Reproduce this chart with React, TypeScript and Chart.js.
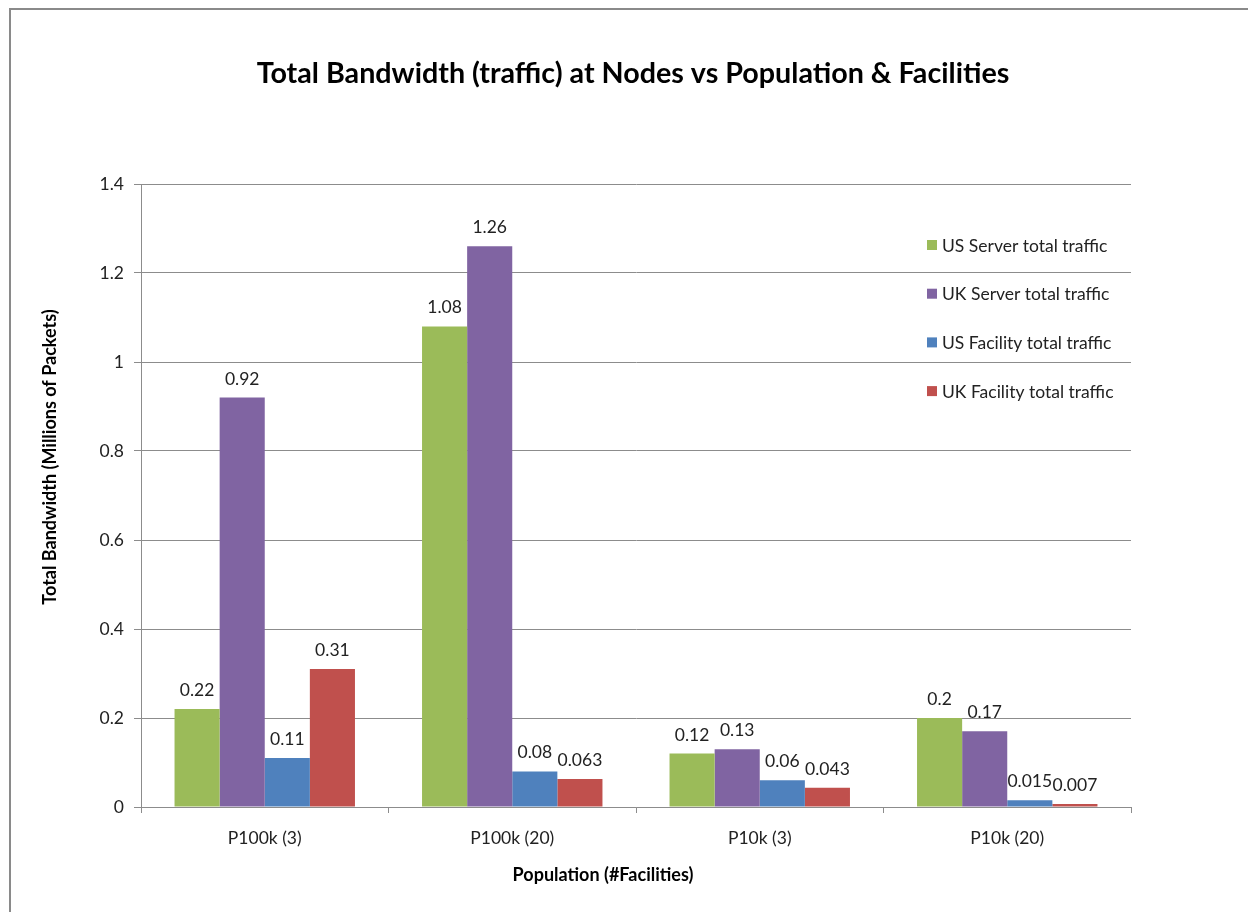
import React, { useEffect, useRef } from "react";
import { Chart, registerables } from "chart.js";

Chart.register(...registerables);

// Categories and series values
const categories = ["P100k (3)", "P100k (20)", "P10k (3)", "P10k (20)"];
const seriesNames = [
  "US Server total traffic",
  "UK Server total traffic",
  "US Facility total traffic",
  "UK Facility total traffic",
];
const usServer = [0.22, 1.08, 0.12, 0.2];
const ukServer = [0.92, 1.26, 0.13, 0.17];
const usFacility = [0.11, 0.08, 0.06, 0.015];
const ukFacility = [0.31, 0.063, 0.043, 0.007];
const seriesColors = ["#9BBB59", "#8064A2", "#4F81BD", "#C0504D"];
const yTickValues = [0, 0.2, 0.4, 0.6, 0.8, 1, 1.2, 1.4];

const chartTitle = "Total Bandwidth (traffic) at Nodes vs Population & Facilities";
const yAxisTitle = "Total Bandwidth (Millions of Packets)";
const xAxisTitle = "Population (#Facilities)";

const FONT = "Lato, 'Open Sans', sans-serif";
const TEXT = "#222222";
const LINE = "#8c8c8c";
const LABEL_SIZE = 17.5;

// White page with the grey frame on the left and top edges
const framePlugin = {
  id: "frame",
  beforeDraw(chart: any) {
    const { ctx, width, height } = chart;
    ctx.save();
    ctx.fillStyle = "#ffffff";
    ctx.fillRect(0, 0, width, height);
    ctx.strokeStyle = "#8a8a8a";
    ctx.lineWidth = 2;
    ctx.beginPath();
    ctx.moveTo(10, height);
    ctx.lineTo(10, 9);
    ctx.lineTo(width, 9);
    ctx.stroke();
    ctx.restore();
  },
};

// Value labels above each bar
const valueLabelPlugin = {
  id: "valueLabels",
  afterDatasetsDraw(chart: any) {
    const { ctx } = chart;
    ctx.save();
    ctx.font = `${LABEL_SIZE}px ${FONT}`;
    ctx.fillStyle = TEXT;
    ctx.textAlign = "center";
    ctx.textBaseline = "alphabetic";
    chart.data.datasets.forEach((ds: any, i: number) => {
      const meta = chart.getDatasetMeta(i);
      meta.data.forEach((bar: any, j: number) => {
        ctx.fillText(String(ds.data[j]), bar.x, bar.y - 13);
      });
    });
    ctx.restore();
  },
};

// Legend drawn inside the plot area, to the right
const legendPlugin = {
  id: "insideLegend",
  afterDraw(chart: any) {
    const { ctx, chartArea } = chart;
    const x0 = chartArea.right - 204;
    const y0 = chartArea.top + 61;
    const step = 48.7;
    ctx.save();
    ctx.font = `${LABEL_SIZE}px ${FONT}`;
    ctx.textAlign = "left";
    ctx.textBaseline = "middle";
    chart.data.datasets.forEach((ds: any, i: number) => {
      const y = y0 + i * step;
      ctx.fillStyle = ds.backgroundColor;
      ctx.fillRect(x0, y - 5, 10, 10);
      ctx.fillStyle = TEXT;
      ctx.fillText(ds.label, x0 + 15, y + 1);
    });
    ctx.restore();
  },
};

// Chart title and axis titles
const titlesPlugin = {
  id: "titles",
  afterDraw(chart: any) {
    const { ctx, chartArea } = chart;
    ctx.save();
    ctx.fillStyle = "#000000";
    ctx.textAlign = "center";
    ctx.textBaseline = "middle";
    ctx.font = `bold 28.7px ${FONT}`;
    ctx.fillText(chartTitle, 633, 74);
    ctx.font = `bold 18px ${FONT}`;
    ctx.fillText(xAxisTitle, chartArea.left + 462, chartArea.bottom + 68);
    ctx.translate(50, chartArea.top + 273);
    ctx.rotate(-Math.PI / 2);
    ctx.fillText(yAxisTitle, 0, 0);
    ctx.restore();
  },
};

export default function App() {
  const canvasRef = useRef<HTMLCanvasElement | null>(null);

  useEffect(() => {
    const canvas = canvasRef.current;
    if (!canvas) return;
    const values = [usServer, ukServer, usFacility, ukFacility];
    const chart = new Chart(canvas, {
      type: "bar",
      data: {
        labels: categories,
        datasets: values.map((data, i) => ({
          label: seriesNames[i],
          data,
          backgroundColor: seriesColors[i],
          borderWidth: 0,
          barPercentage: 1,
          categoryPercentage: 0.729,
        })),
      },
      options: {
        animation: false,
        responsive: false,
        devicePixelRatio: 1,
        layout: { padding: { left: 0, right: 117, top: 184, bottom: 55 } },
        plugins: {
          legend: { display: false },
          tooltip: { enabled: false },
          title: { display: false },
        },
        scales: {
          x: {
            grid: {
              display: true,
              drawOnChartArea: false,
              drawTicks: true,
              tickLength: 6,
              color: LINE,
              offset: true,
            },
            border: { display: true, color: LINE },
            ticks: {
              color: TEXT,
              font: { family: FONT, size: LABEL_SIZE },
              padding: 15,
            },
            afterFit(scale: any) {
              scale.height = 50;
            },
          },
          y: {
            min: 0,
            max: 1.4,
            grid: { color: LINE, tickLength: 7, drawTicks: true },
            border: { display: true, color: LINE },
            ticks: {
              color: TEXT,
              font: { family: FONT, size: LABEL_SIZE },
              padding: 10,
              callback: (v: any) => String(v),
            },
            afterBuildTicks(scale: any) {
              scale.ticks = yTickValues.map((v) => ({ value: v }));
            },
            afterFit(scale: any) {
              scale.width = 141;
            },
          },
        },
      },
      plugins: [framePlugin, valueLabelPlugin, legendPlugin, titlesPlugin],
    } as any);
    return () => chart.destroy();
  }, []);

  return (
    <div style={{ position: "absolute", left: 0, top: 0, width: 1248, height: 912 }}>
      <canvas ref={canvasRef} width={1248} height={912} />
    </div>
  );
}
